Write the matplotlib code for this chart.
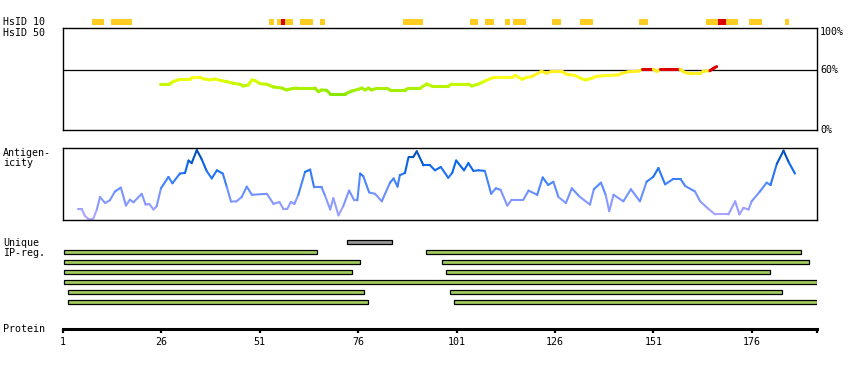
import matplotlib
matplotlib.use("Agg")
import matplotlib.pyplot as plt
import numpy as np
from matplotlib.collections import LineCollection
from matplotlib.colors import LinearSegmentedColormap

# protein residue range shown on the x axis
x_start, x_end = 1, 192.6
protein_ticks = [1, 26, 51, 76, 101, 126, 151, 176]

# HsID 10 strip: orange blocks and red blocks (residue start, end)
hsid10_start = [8.4, 13.2, 53.4, 55.4, 61.2, 66.3, 87.4, 104.4, 108.2, 113.3,
                115.4, 125.3, 132.4, 147.4, 164.4, 175.3, 184.5]
hsid10_end = [11.4, 18.5, 54.6, 59.4, 64.5, 67.6, 92.5, 106.5, 110.5, 114.6,
              118.7, 127.6, 135.7, 149.7, 172.5, 178.6, 185.5]
hsid10_red_start = [56.4, 167.5]
hsid10_red_end = [57.4, 169.5]

# HsID 50 identity line (% identity)
hsid50_res = [25.7, 27.9, 29.0, 30.5, 33.3, 33.9, 35.8, 36.8, 38.4, 39.6, 40.9,
              42.6, 44.3, 46.0, 46.8, 48.1, 49.0, 49.8, 51.1, 52.8, 54.5, 56.6,
              57.8, 59.1, 60.4, 65.0, 65.9, 66.7, 68.0, 68.9, 72.7, 74.4, 76.1,
              76.9, 77.8, 78.6, 79.4, 80.7, 83.3, 84.1, 87.9, 88.8, 91.7, 93.4,
              94.7, 98.9, 99.8, 104.0, 104.9, 106.6, 108.2, 110.4, 115.0, 115.9,
              117.6, 118.8, 120.1, 122.6, 123.9, 125.2, 127.7, 129.0, 131.1,
              132.4, 133.7, 135.4, 136.2, 138.3, 142.1, 143.0, 144.7, 147.2,
              148.1, 151.0, 151.9, 152.7, 157.8, 158.6, 159.9, 162.9, 163.7,
              165.4, 166.3, 167.1]
hsid50_pct = [45.9, 45.9, 48.6, 50.9, 50.9, 52.9, 52.9, 51.3, 50.3, 51.3, 49.9,
              48.6, 46.9, 45.9, 44.2, 45.2, 50.3, 49.6, 46.6, 45.9, 43.2, 42.2,
              40.2, 41.5, 42.2, 42.2, 38.5, 40.2, 39.9, 36.2, 36.2, 39.2, 40.9,
              42.2, 40.2, 42.2, 40.2, 41.9, 41.9, 40.2, 40.2, 41.9, 41.9, 46.2,
              44.2, 44.2, 46.2, 46.2, 44.2, 46.2, 49.2, 52.9, 52.9, 54.9, 50.9,
              52.9, 53.6, 59.0, 57.0, 59.0, 59.0, 55.9, 54.9, 52.3, 50.3, 51.9,
              53.6, 54.6, 55.3, 57.0, 58.6, 59.0, 61.0, 61.0, 58.6, 61.0, 61.0,
              58.6, 57.0, 57.0, 59.0, 59.6, 62.0, 63.7]

# antigenicity profile (relative score 0..1)
antigen_res = [4.9, 5.8, 6.6, 7.4, 8.7, 9.6, 10.4, 11.7, 12.9, 14.2, 15.7, 17.0,
               18.0, 18.9, 21.0, 22.0, 22.9, 24.0, 24.8, 25.9, 27.8, 28.8, 30.7,
               32.0, 32.9, 33.7, 35.0, 36.2, 37.5, 38.8, 40.1, 41.6, 42.6, 43.7,
               45.1, 46.4, 47.7, 49.0, 52.8, 54.5, 56.0, 57.0, 58.0, 58.9, 59.8,
               60.8, 62.5, 63.8, 64.8, 66.7, 67.6, 68.9, 69.7, 71.0, 72.2, 73.7,
               75.0, 75.8, 76.5, 77.3, 78.8, 80.3, 82.0, 84.1, 85.0, 86.0, 86.6,
               87.9, 88.8, 90.0, 90.9, 92.6, 94.3, 95.5, 97.0, 98.9, 99.9, 100.9,
               102.9, 104.0, 105.3, 106.6, 108.2, 109.8, 111.0, 112.2, 113.9,
               115.0, 118.0, 119.3, 121.5, 122.9, 124.3, 125.6, 126.9, 128.8,
               130.3, 132.2, 134.9, 135.9, 137.7, 138.9, 139.8, 140.9, 143.4,
               145.3, 147.6, 149.3, 151.0, 152.3, 154.0, 155.9, 158.0, 159.1,
               161.6, 162.9, 165.0, 166.7, 170.1, 171.8, 172.9, 173.9, 175.2,
               176.0, 178.1, 179.8, 180.8, 182.4, 184.1, 185.4, 187.0]
antigen_val = [0.139, 0.139, 0.046, 0.009, 0.009, 0.139, 0.315, 0.231, 0.269,
               0.394, 0.449, 0.194, 0.278, 0.241, 0.361, 0.208, 0.218, 0.139,
               0.185, 0.440, 0.600, 0.510, 0.648, 0.657, 0.833, 0.796, 0.981,
               0.856, 0.685, 0.579, 0.694, 0.648, 0.463, 0.250, 0.255, 0.315,
               0.463, 0.347, 0.361, 0.218, 0.245, 0.148, 0.148, 0.245, 0.218,
               0.347, 0.671, 0.704, 0.454, 0.454, 0.333, 0.139, 0.300, 0.056,
               0.185, 0.407, 0.269, 0.269, 0.648, 0.611, 0.380, 0.361, 0.255,
               0.519, 0.579, 0.463, 0.625, 0.657, 0.880, 0.880, 0.963, 0.764,
               0.764, 0.694, 0.741, 0.588, 0.657, 0.833, 0.694, 0.796, 0.685,
               0.694, 0.685, 0.361, 0.440, 0.417, 0.194, 0.278, 0.278, 0.407,
               0.347, 0.593, 0.486, 0.532, 0.315, 0.231, 0.440, 0.324, 0.208,
               0.426, 0.519, 0.347, 0.116, 0.347, 0.255, 0.426, 0.255, 0.532,
               0.602, 0.727, 0.495, 0.565, 0.565, 0.472, 0.394, 0.255, 0.148,
               0.069, 0.069, 0.255, 0.069, 0.162, 0.139, 0.255, 0.394, 0.519,
               0.486, 0.787, 0.972, 0.810, 0.648]

# unique IP regions: one grey region on top, then rows of green regions
ip_grey = (73.2, 84.5)
ip_rows = [
    [(1.3, 65.5), (93.3, 188.5)],
    [(1.3, 76.4), (97.4, 190.5)],
    [(1.3, 74.4), (98.4, 180.6)],
    [(1.3, 192.5)],
    [(2.3, 77.4), (99.4, 183.6)],
    [(2.3, 78.4), (100.4, 192.5)],
]

W, H = 850, 370
plt.rcParams['font.family'] = ['DejaVu Sans Mono']
fs = 7.2


def box(left, top, right, bottom):
    return [left / W, 1 - bottom / H, (right - left) / W, (bottom - top) / H]


fig = plt.figure(figsize=(W / 100, H / 100), dpi=100)
fig.patch.set_facecolor('white')

# HsID 10 strip
ax10 = fig.add_axes(box(63, 19, 817, 25))
ax10.set_xlim(x_start, x_end)
ax10.set_ylim(0, 1)
ax10.axis('off')
for s, e in zip(hsid10_start, hsid10_end):
    ax10.axvspan(s, e, color='#ffcc22', lw=0)
for s, e in zip(hsid10_red_start, hsid10_red_end):
    ax10.axvspan(s, e, color='#dd0000', lw=0)

# HsID 50 panel
ax50 = fig.add_axes(box(63, 28, 817, 130))
ax50.set_xlim(x_start, x_end)
ax50.set_ylim(0, 102.5)
ax50.set_xticks([])
ax50.set_yticks([])
for sp in ax50.spines.values():
    sp.set_linewidth(1.0)
ax50.axhline(60, color='black', lw=0.9)
cm50 = LinearSegmentedColormap.from_list(
    'id', [(0, '#88e800'), (0.35, '#b4f400'), (0.6, '#ddff00'),
           (0.8, '#ffff22'), (1, '#ffee22')])
pts = np.column_stack([hsid50_res, hsid50_pct])
segs = np.stack([pts[:-1], pts[1:]], axis=1)
cols = []
for a, b in zip(hsid50_pct[:-1], hsid50_pct[1:]):
    if (a >= 60.5 and b >= 60.5) or (max(a, b) >= 61.5 and min(a, b) >= 59.5):
        cols.append('#dd0000')
    else:
        cols.append(cm50(np.clip(((a + b) / 2 - 36) / 22, 0, 1)))
ax50.add_collection(LineCollection(segs, colors=cols, linewidths=2.2,
                                   capstyle='round'))
ax50.text(1.004, 98.5 / 102.5, '100%', transform=ax50.transAxes,
          fontsize=fs, va='center', ha='left')
ax50.text(1.004, 60 / 102.5, '60%', transform=ax50.transAxes,
          fontsize=fs, va='center', ha='left')
ax50.text(1.004, 0.0, '0%', transform=ax50.transAxes,
          fontsize=fs, va='center', ha='left')

# antigenicity panel
axag = fig.add_axes(box(63, 148, 817, 220))
axag.set_xlim(x_start, x_end)
axag.set_ylim(-0.01, 1.01)
axag.set_xticks([])
axag.set_yticks([])
for sp in axag.spines.values():
    sp.set_linewidth(1.0)
cmag = LinearSegmentedColormap.from_list(
    'ag', [(0, '#b4a8ff'), (0.3, '#7f96ff'), (0.5, '#4a86ff'),
           (0.75, '#0a66ee'), (1, '#00449c')])
pts = np.column_stack([antigen_res, antigen_val])
segs = np.stack([pts[:-1], pts[1:]], axis=1)
cols = [cmag((a + b) / 2) for a, b in zip(antigen_val[:-1], antigen_val[1:])]
axag.add_collection(LineCollection(segs, colors=cols, linewidths=1.5,
                                   capstyle='round'))

# unique IP regions (10 px per row, grey row centred at y=242)
axip = fig.add_axes(box(63, 237, 817, 307))
axip.set_xlim(x_start, x_end)
axip.set_ylim(len(ip_rows) - 0.5, -1.5)
axip.axis('off')
axip.barh(-1, ip_grey[1] - ip_grey[0], left=ip_grey[0], height=0.45,
          color='#999999', edgecolor='black', lw=0.9)
for i, row in enumerate(ip_rows):
    for s, e in row:
        axip.barh(i, e - s, left=s, height=0.45, color='#a2cc60',
                  edgecolor='black', lw=0.9)

# protein axis
axp = fig.add_axes(box(63, 300, 817, 329))
axp.set_xlim(x_start, x_end)
axp.set_yticks([])
for k in ['top', 'left', 'right']:
    axp.spines[k].set_visible(False)
axp.spines['bottom'].set_linewidth(2.2)
axp.patch.set_alpha(0)
axp.set_xticks(protein_ticks + [x_end])
axp.set_xticklabels([str(t) for t in protein_ticks] + [''])
axp.tick_params(axis='x', direction='out', length=3, width=1.6,
                labelsize=fs, pad=3)

# left labels
lab = dict(fontsize=fs, va='center', ha='left')
fig.text(3 / W, 1 - 22 / H, 'HsID 10', **lab)
fig.text(3 / W, 1 - 32.5 / H, 'HsID 50', **lab)
fig.text(3 / W, 1 - 153.5 / H, 'Antigen-', **lab)
fig.text(3 / W, 1 - 163.5 / H, 'icity', **lab)
fig.text(3 / W, 1 - 242.5 / H, 'Unique', **lab)
fig.text(3 / W, 1 - 252.5 / H, 'IP-reg.', **lab)
fig.text(3 / W, 1 - 329 / H, 'Protein', **lab)

fig.savefig('out.png', dpi=100)
